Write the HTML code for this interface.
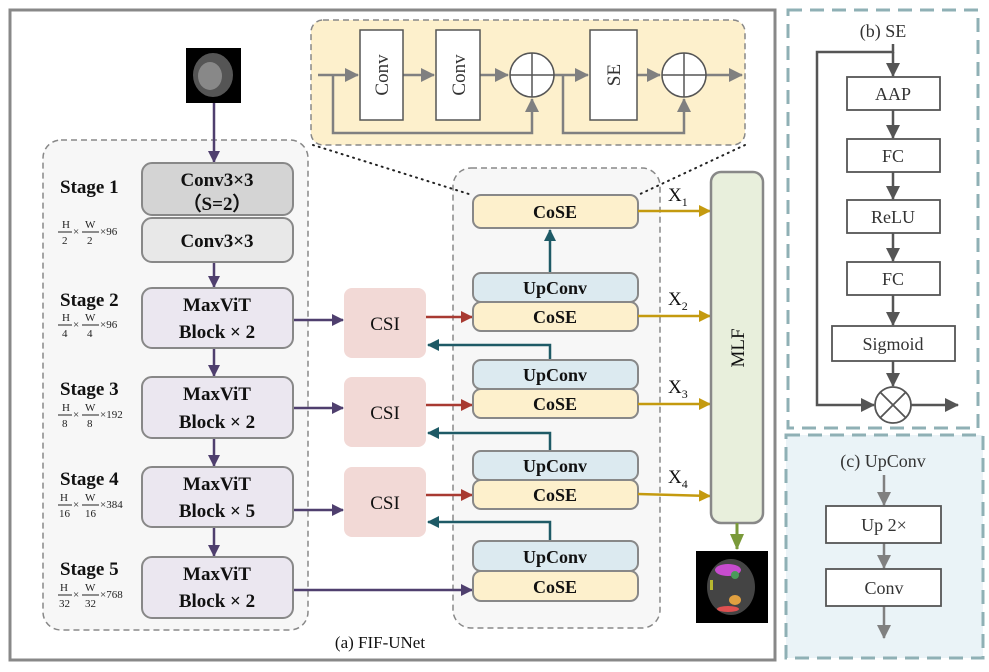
<!DOCTYPE html>
<html><head><meta charset="utf-8"><style>body{margin:0;background:#fff}svg{display:block}text{font-family:"Liberation Serif",serif}</style></head><body>
<svg width="989" height="672" viewBox="0 0 989 672" xmlns="http://www.w3.org/2000/svg">
<defs>
<marker id="ad" markerWidth="14" markerHeight="14" refX="13" refY="7" orient="auto" markerUnits="userSpaceOnUse"><path d="M0,0L14,7L0,14z" fill="#555"/></marker>
<marker id="ag2" markerWidth="14" markerHeight="14" refX="13" refY="7" orient="auto" markerUnits="userSpaceOnUse"><path d="M0,0L14,7L0,14z" fill="#808080"/></marker>
<marker id="ap" markerWidth="12" markerHeight="12" refX="11" refY="6" orient="auto" markerUnits="userSpaceOnUse"><path d="M0,0L12,6L0,12z" fill="#4f3f6e"/></marker>
<marker id="ar" markerWidth="12" markerHeight="12" refX="11" refY="6" orient="auto" markerUnits="userSpaceOnUse"><path d="M0,0L12,6L0,12z" fill="#a83a32"/></marker>
<marker id="at" markerWidth="12" markerHeight="12" refX="11" refY="6" orient="auto" markerUnits="userSpaceOnUse"><path d="M0,0L12,6L0,12z" fill="#1e5a66"/></marker>
<marker id="ay" markerWidth="12" markerHeight="12" refX="11" refY="6" orient="auto" markerUnits="userSpaceOnUse"><path d="M0,0L12,6L0,12z" fill="#c49a0f"/></marker>
<marker id="av" markerWidth="16" markerHeight="14" refX="15" refY="7" orient="auto" markerUnits="userSpaceOnUse"><path d="M0,0L16,7L0,14z" fill="#7a9a3a"/></marker>
</defs>
<rect x="10" y="10" width="765" height="650" fill="#fff" stroke="#888" stroke-width="3"/>
<rect x="788" y="10" width="190" height="418" fill="#fff" stroke="#8fb0b5" stroke-width="3" stroke-dasharray="14,8"/>
<rect x="786" y="435" width="197" height="223" fill="#eaf3f7" stroke="#8fb0b5" stroke-width="3" stroke-dasharray="14,8"/>
<rect x="43" y="140" width="265" height="490" rx="18" fill="#f7f7f7" stroke="#888" stroke-width="1.5" stroke-dasharray="6,4"/>
<rect x="453" y="168" width="207" height="460" rx="18" fill="#f7f7f7" stroke="#888" stroke-width="1.5" stroke-dasharray="6,4"/>
<rect x="311" y="20" width="434" height="125" rx="12" fill="#fdf0cc" stroke="#888" stroke-width="1.5" stroke-dasharray="6,4"/>
<g stroke="#808080" stroke-width="2.5" fill="none">
<line x1="318" y1="75" x2="358" y2="75" marker-end="url(#ag2)"/>
<line x1="403" y1="75" x2="434" y2="75" marker-end="url(#ag2)"/>
<line x1="480" y1="75" x2="508" y2="75" marker-end="url(#ag2)"/>
<line x1="554" y1="75" x2="588" y2="75" marker-end="url(#ag2)"/>
<line x1="637" y1="75" x2="660" y2="75" marker-end="url(#ag2)"/>
<line x1="706" y1="75" x2="742" y2="75" marker-end="url(#ag2)"/>
<polyline points="333,75 333,133 532,133 532,99" marker-end="url(#ag2)"/>
<polyline points="563,75 563,133 684,133 684,99" marker-end="url(#ag2)"/>
</g>
<g stroke="#555" stroke-width="1.5" fill="#fff">
<rect x="360" y="30" width="43" height="90"/><rect x="436" y="30" width="44" height="90"/><rect x="590" y="30" width="47" height="90"/>
<circle cx="532" cy="75" r="22"/><circle cx="684" cy="75" r="22"/>
<path d="M510,75H554M532,53V97M662,75H706M684,53V97" fill="none"/>
</g>
<g font-size="19" fill="#333" text-anchor="middle">
<text transform="translate(388,75) rotate(-90)">Conv</text>
<text transform="translate(465,75) rotate(-90)">Conv</text>
<text transform="translate(620,75) rotate(-90)">SE</text>
</g>
<line x1="313" y1="145" x2="472" y2="195" stroke="#222" stroke-width="2" stroke-dasharray="1,5" stroke-linecap="round"/>
<line x1="745" y1="145" x2="638" y2="195" stroke="#222" stroke-width="2" stroke-dasharray="1,5" stroke-linecap="round"/>
<rect x="186" y="48" width="55" height="55" fill="#000"/>
<ellipse cx="213" cy="75" rx="20" ry="22" fill="#555"/><ellipse cx="210" cy="76" rx="12" ry="14" fill="#888"/>
<g stroke="#4f3f6e" stroke-width="2.5" fill="none">
<line x1="214" y1="103" x2="214" y2="162" marker-end="url(#ap)"/>
<line x1="214" y1="262" x2="214" y2="287" marker-end="url(#ap)"/>
<line x1="214" y1="348" x2="214" y2="376" marker-end="url(#ap)"/>
<line x1="214" y1="438" x2="214" y2="466" marker-end="url(#ap)"/>
<line x1="214" y1="527" x2="214" y2="556" marker-end="url(#ap)"/>
<line x1="293" y1="320" x2="343" y2="320" marker-end="url(#ap)"/>
<line x1="293" y1="408" x2="343" y2="408" marker-end="url(#ap)"/>
<line x1="293" y1="510" x2="343" y2="510" marker-end="url(#ap)"/>
<line x1="293" y1="590" x2="472" y2="590" marker-end="url(#ap)"/>
</g>
<g stroke="#888" stroke-width="2">
<rect x="142" y="163" width="151" height="52" rx="10" fill="#d4d4d4"/>
<rect x="142" y="218" width="151" height="44" rx="10" fill="#e8e8e8"/>
<rect x="142" y="288" width="151" height="60" rx="10" fill="#ebe7f0"/>
<rect x="142" y="377" width="151" height="61" rx="10" fill="#ebe7f0"/>
<rect x="142" y="467" width="151" height="60" rx="10" fill="#ebe7f0"/>
<rect x="142" y="557" width="151" height="61" rx="10" fill="#ebe7f0"/>
</g>
<g font-size="19" font-weight="bold" text-anchor="middle" fill="#111">
<text x="217" y="186">Conv3×3</text><text x="217" y="210">（S=2）</text>
<text x="217" y="247">Conv3×3</text>
<text x="217" y="311">MaxViT</text><text x="217" y="338">Block × 2</text>
<text x="217" y="400">MaxViT</text><text x="217" y="428">Block × 2</text>
<text x="217" y="490">MaxViT</text><text x="217" y="517">Block × 5</text>
<text x="217" y="580">MaxViT</text><text x="217" y="607">Block × 2</text>
</g>
<g font-size="19" font-weight="bold" fill="#111">
<text x="60" y="193">Stage 1</text><text x="60" y="306">Stage 2</text><text x="60" y="395">Stage 3</text><text x="60" y="485">Stage 4</text><text x="60" y="575">Stage 5</text>
</g>
<g font-size="11" fill="#222">
<g transform="translate(58,232)"><text x="4" y="-4">H</text><line x1="0" y1="0" x2="14" y2="0" stroke="#222"/><text x="4" y="12">2</text><text x="15" y="3">×</text><text x="27" y="-4">W</text><line x1="24" y1="0" x2="41" y2="0" stroke="#222"/><text x="29" y="12">2</text><text x="42" y="3">×96</text></g>
<g transform="translate(58,325)"><text x="4" y="-4">H</text><line x1="0" y1="0" x2="14" y2="0" stroke="#222"/><text x="4" y="12">4</text><text x="15" y="3">×</text><text x="27" y="-4">W</text><line x1="24" y1="0" x2="41" y2="0" stroke="#222"/><text x="29" y="12">4</text><text x="42" y="3">×96</text></g>
<g transform="translate(58,415)"><text x="4" y="-4">H</text><line x1="0" y1="0" x2="14" y2="0" stroke="#222"/><text x="4" y="12">8</text><text x="15" y="3">×</text><text x="27" y="-4">W</text><line x1="24" y1="0" x2="41" y2="0" stroke="#222"/><text x="29" y="12">8</text><text x="42" y="3">×192</text></g>
<g transform="translate(58,505)"><text x="2" y="-4">H</text><line x1="0" y1="0" x2="14" y2="0" stroke="#222"/><text x="1" y="12">16</text><text x="15" y="3">×</text><text x="27" y="-4">W</text><line x1="24" y1="0" x2="41" y2="0" stroke="#222"/><text x="27" y="12">16</text><text x="42" y="3">×384</text></g>
<g transform="translate(58,595)"><text x="2" y="-4">H</text><line x1="0" y1="0" x2="14" y2="0" stroke="#222"/><text x="1" y="12">32</text><text x="15" y="3">×</text><text x="27" y="-4">W</text><line x1="24" y1="0" x2="41" y2="0" stroke="#222"/><text x="27" y="12">32</text><text x="42" y="3">×768</text></g>
</g>
<g fill="#f2d9d6"><rect x="344" y="288" width="82" height="70" rx="8"/><rect x="344" y="377" width="82" height="70" rx="8"/><rect x="344" y="467" width="82" height="70" rx="8"/></g>
<g font-size="19" text-anchor="middle" fill="#111"><text x="385" y="330">CSI</text><text x="385" y="419">CSI</text><text x="385" y="509">CSI</text></g>
<g stroke="#a83a32" stroke-width="2.5"><line x1="426" y1="317" x2="472" y2="317" marker-end="url(#ar)"/><line x1="426" y1="405" x2="472" y2="405" marker-end="url(#ar)"/><line x1="426" y1="495" x2="472" y2="495" marker-end="url(#ar)"/></g>
<g stroke="#1e5a66" stroke-width="2.5" fill="none">
<polyline points="550,360 550,345 428,345" marker-end="url(#at)"/>
<polyline points="550,451 550,433 428,433" marker-end="url(#at)"/>
<polyline points="550,541 550,522 428,522" marker-end="url(#at)"/>
<line x1="550" y1="273" x2="550" y2="230" marker-end="url(#at)"/>
</g>
<g stroke="#888" stroke-width="2">
<rect x="473" y="195" width="165" height="33" rx="8" fill="#fdf0cc"/>
<rect x="473" y="273" width="165" height="29" rx="8" fill="#dceaf0"/><rect x="473" y="302" width="165" height="29" rx="8" fill="#fdf0cc"/>
<rect x="473" y="360" width="165" height="29" rx="8" fill="#dceaf0"/><rect x="473" y="389" width="165" height="29" rx="8" fill="#fdf0cc"/>
<rect x="473" y="451" width="165" height="29" rx="8" fill="#dceaf0"/><rect x="473" y="480" width="165" height="29" rx="8" fill="#fdf0cc"/>
<rect x="473" y="541" width="165" height="30" rx="8" fill="#dceaf0"/><rect x="473" y="571" width="165" height="30" rx="8" fill="#fdf0cc"/>
</g>
<g font-size="18" font-weight="bold" text-anchor="middle" fill="#111">
<text x="555" y="218">CoSE</text>
<text x="555" y="294">UpConv</text><text x="555" y="323">CoSE</text>
<text x="555" y="381">UpConv</text><text x="555" y="410">CoSE</text>
<text x="555" y="472">UpConv</text><text x="555" y="501">CoSE</text>
<text x="555" y="563">UpConv</text><text x="555" y="593">CoSE</text>
</g>
<g stroke="#c49a0f" stroke-width="2.5"><line x1="638" y1="211" x2="710" y2="211" marker-end="url(#ay)"/><line x1="638" y1="316" x2="710" y2="316" marker-end="url(#ay)"/><line x1="638" y1="404" x2="710" y2="404" marker-end="url(#ay)"/><line x1="638" y1="494" x2="710" y2="496" marker-end="url(#ay)"/></g>
<g font-size="19" fill="#111"><text x="668" y="201">X<tspan font-size="12" dy="5">1</tspan></text><text x="668" y="305">X<tspan font-size="12" dy="5">2</tspan></text><text x="668" y="393">X<tspan font-size="12" dy="5">3</tspan></text><text x="668" y="483">X<tspan font-size="12" dy="5">4</tspan></text></g>
<rect x="711" y="172" width="52" height="351" rx="10" fill="#e8efdc" stroke="#888" stroke-width="2.5"/>
<text transform="translate(744,348) rotate(-90)" font-size="19" text-anchor="middle" fill="#111">MLF</text>
<line x1="737" y1="523" x2="737" y2="549" stroke="#7a9a3a" stroke-width="3" marker-end="url(#av)"/>
<rect x="696" y="551" width="72" height="72" fill="#000"/>
<ellipse cx="731" cy="587" rx="24" ry="28" fill="#444"/>
<ellipse cx="728" cy="570" rx="13" ry="6" fill="#c74ccf"/><ellipse cx="735" cy="600" rx="6" ry="5" fill="#e0a040"/><ellipse cx="728" cy="609" rx="11" ry="3" fill="#e05050"/><ellipse cx="735" cy="575" rx="4" ry="4" fill="#4a9a5a"/><rect x="710" y="580" width="3" height="10" fill="#b8b830"/>
<text x="380" y="648" font-size="17" text-anchor="middle" fill="#111">(a) FIF-UNet</text>
<text x="883" y="37" font-size="18" text-anchor="middle" fill="#333">(b) SE</text>
<g stroke="#555" stroke-width="2.5" fill="none">
<polyline points="893,44 893,52 817,52 817,405 874,405" marker-end="url(#ad)"/>
<line x1="893" y1="52" x2="893" y2="76" marker-end="url(#ad)"/>
<line x1="893" y1="110" x2="893" y2="138" marker-end="url(#ad)"/>
<line x1="893" y1="172" x2="893" y2="199" marker-end="url(#ad)"/>
<line x1="893" y1="233" x2="893" y2="261" marker-end="url(#ad)"/>
<line x1="893" y1="295" x2="893" y2="325" marker-end="url(#ad)"/>
<line x1="893" y1="361" x2="893" y2="386" marker-end="url(#ad)"/>
<line x1="911" y1="405" x2="958" y2="405" marker-end="url(#ad)"/>
</g>
<g stroke="#555" stroke-width="1.8" fill="#fff">
<rect x="847" y="77" width="93" height="33"/><rect x="847" y="139" width="93" height="33"/><rect x="847" y="200" width="93" height="33"/><rect x="847" y="262" width="93" height="33"/><rect x="832" y="326" width="123" height="35"/>
<circle cx="893" cy="405" r="18"/><path d="M880,392L906,418M906,392L880,418" fill="none"/>
</g>
<g font-size="18" text-anchor="middle" fill="#333"><text x="893" y="100">AAP</text><text x="893" y="162">FC</text><text x="893" y="223">ReLU</text><text x="893" y="285">FC</text><text x="893" y="350">Sigmoid</text></g>
<text x="883" y="467" font-size="18" text-anchor="middle" fill="#333">(c) UpConv</text>
<g stroke="#808080" stroke-width="2.5"><line x1="884" y1="475" x2="884" y2="505" marker-end="url(#ag2)"/><line x1="884" y1="543" x2="884" y2="568" marker-end="url(#ag2)"/><line x1="884" y1="606" x2="884" y2="638" marker-end="url(#ag2)"/></g>
<g stroke="#555" stroke-width="1.8" fill="#fff"><rect x="826" y="506" width="115" height="37"/><rect x="826" y="569" width="115" height="37"/></g>
<g font-size="18" text-anchor="middle" fill="#333"><text x="884" y="531">Up 2×</text><text x="884" y="594">Conv</text></g>
</svg>
</body></html>
